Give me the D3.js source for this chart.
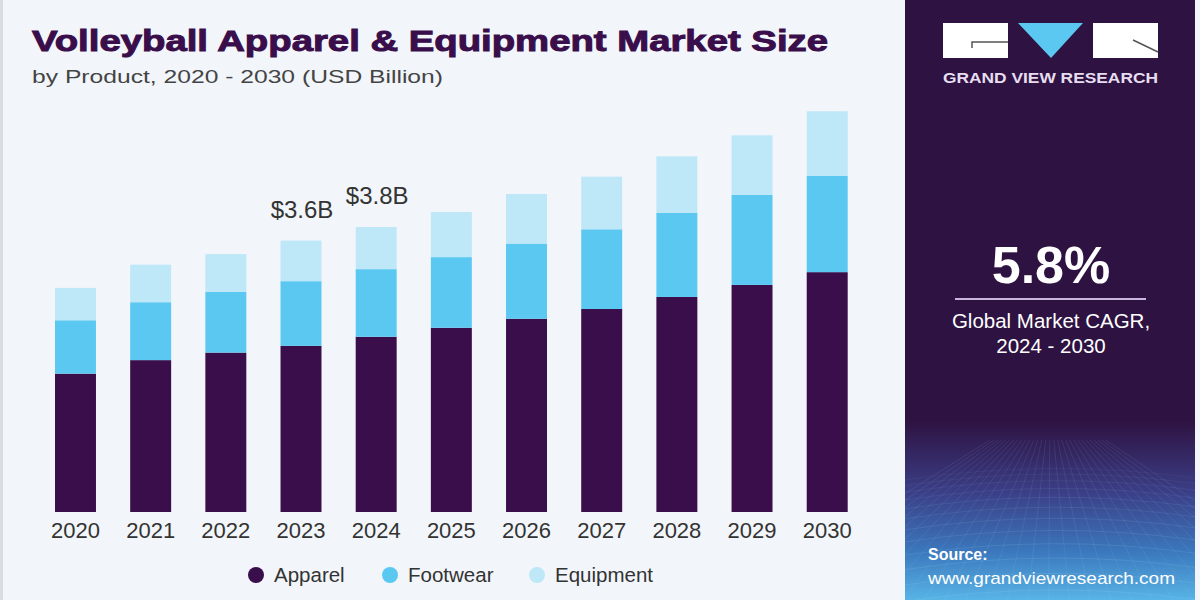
<!DOCTYPE html>
<html>
<head>
<meta charset="utf-8">
<script src="https://cdn.jsdelivr.net/npm/d3@7"></script>
<style>
  html, body { margin: 0; padding: 0; background: #f2f6fa; }
  svg { display: block; }
</style>
</head>
<body>
<svg id="chart" width="1200" height="600"></svg>
<script>
const years = ["2020","2021","2022","2023","2024","2025","2026","2027","2028","2029","2030"];
const apparel   = [1.84, 2.02, 2.12, 2.21, 2.33, 2.45, 2.57, 2.70, 2.86, 3.02, 3.19];
const footwear  = [0.71, 0.77, 0.81, 0.86, 0.90, 0.94, 1.00, 1.06, 1.12, 1.20, 1.28];
const equipment = [0.43, 0.50, 0.50, 0.54, 0.56, 0.60, 0.66, 0.70, 0.75, 0.79, 0.86];
const seriesNames = ["Apparel", "Footwear", "Equipment"];
const seriesColors = ["#3a0e4b", "#5bc8f1", "#bee7f8"];
const annotations = [{year: "2023", label: "$3.6B"}, {year: "2024", label: "$3.8B"}];
const cagrValue = "5.8%";
const cagrLines = ["Global Market CAGR,", "2024 - 2030"];

const svg = d3.select("#chart");
const font = "'Liberation Sans', Arial, sans-serif";

// background
svg.append("rect").attr("width", 1200).attr("height", 600).attr("fill", "#f2f6fa");
svg.append("rect").attr("x", 0).attr("y", 0).attr("width", 3).attr("height", 600).attr("fill", "#d9dde2");

// data table
const table = years.map((y, i) => ({year: y, Apparel: apparel[i], Footwear: footwear[i], Equipment: equipment[i]}));
const stack = d3.stack().keys(seriesNames)(table);

const x = d3.scaleBand().domain(years).range([20.8, 881.9]).paddingInner(0.455).paddingOuter(0.455);
const y = d3.scaleLinear().domain([0, 5.32]).range([512, 112]);
const color = d3.scaleOrdinal().domain(seriesNames).range(seriesColors);

const g = svg.append("g");
g.selectAll("g.series").data(stack).join("g")
  .attr("class", "series")
  .attr("fill", d => color(d.key))
  .selectAll("rect").data(d => d).join("rect")
  .attr("x", d => x(d.data.year))
  .attr("width", x.bandwidth())
  .attr("y", d => y(d[1]))
  .attr("height", d => y(d[0]) - y(d[1]));

// x axis labels
const xAxis = d3.axisBottom(x).tickSize(0).tickPadding(0);
const ax = svg.append("g").attr("transform", "translate(0,522)").call(xAxis);
ax.select(".domain").remove();
ax.selectAll("text")
  .attr("dy", "0.71em")
  .attr("font-family", font).attr("font-size", 22).attr("fill", "#333")
  .attr("y", 0);

// annotations
const totals = years.map((yr, i) => apparel[i] + footwear[i] + equipment[i]);
annotations.forEach(a => {
  const i = years.indexOf(a.year);
  svg.append("text")
    .attr("x", x(a.year) + x.bandwidth() / 2 + 1)
    .attr("y", y(totals[i]) - 23)
    .attr("text-anchor", "middle")
    .attr("font-family", font).attr("font-size", 24).attr("fill", "#333")
    .text(a.label);
});

// title
svg.append("text").attr("x", 32).attr("y", 51)
  .attr("font-family", font).attr("font-weight", 900).attr("font-size", 30)
  .attr("fill", "#3a0e4b")
  .attr("textLength", 796).attr("lengthAdjust", "spacingAndGlyphs")
  .style("stroke", "#3a0e4b").style("stroke-width", 1)
  .text("Volleyball Apparel & Equipment Market Size");
svg.append("text").attr("x", 32).attr("y", 83)
  .attr("font-family", font).attr("font-size", 19).attr("fill", "#444")
  .attr("textLength", 411).attr("lengthAdjust", "spacingAndGlyphs")
  .text("by Product, 2020 - 2030 (USD Billion)");

// legend
const legendX = [256, 390, 537];
const legend = svg.append("g");
seriesNames.forEach((name, i) => {
  legend.append("circle").attr("cx", legendX[i]).attr("cy", 575).attr("r", 8).attr("fill", seriesColors[i]);
  legend.append("text").attr("x", legendX[i] + 18).attr("y", 582)
    .attr("font-family", font).attr("font-size", 20.5).attr("fill", "#333")
    .text(name);
});

// right panel
const defs = svg.append("defs");
const grad = defs.append("linearGradient").attr("id", "panelGrad").attr("x1", 0).attr("y1", 0).attr("x2", 0).attr("y2", 1);
grad.append("stop").attr("offset", "0%").attr("stop-color", "#2e1241");
grad.append("stop").attr("offset", "70%").attr("stop-color", "#2e1241");
grad.append("stop").attr("offset", "82%").attr("stop-color", "#3b3e86");
grad.append("stop").attr("offset", "92%").attr("stop-color", "#3b78bd");
grad.append("stop").attr("offset", "100%").attr("stop-color", "#58b4e6");
svg.append("rect").attr("x", 905).attr("y", 0).attr("width", 290).attr("height", 600).attr("fill", "url(#panelGrad)");

// faint grid in the lower panel
const clip = defs.append("clipPath").attr("id", "panelClip");
clip.append("rect").attr("x", 905).attr("y", 430).attr("width", 290).attr("height", 170);
const gridG = svg.append("g").attr("clip-path", "url(#panelClip)").attr("stroke", "#9fd3f3").attr("fill", "none");
for (let k = 0; k < 16; k++) {
  const yy = 470 + k * k * 0.55 + k * 5;
  gridG.append("path").attr("d", `M905,${yy + 10} Q1050,${yy - 12} 1195,${yy + 8}`)
    .attr("stroke-opacity", 0.08 + k * 0.012).attr("stroke-width", 0.8);
}
for (let k = -6; k < 24; k++) {
  const xx = 905 + k * 16;
  gridG.append("path").attr("d", `M${xx + (xx - 1050) * 0.3},600 L${1050 + (xx - 1050) * 0.25},440`)
    .attr("stroke-opacity", 0.14).attr("stroke-width", 0.8);
}

// logo
const logo = svg.append("g");
logo.append("rect").attr("x", 943).attr("y", 23).attr("width", 65).attr("height", 35).attr("fill", "#ffffff");
logo.append("path").attr("d", "M1018,23 L1083,23 L1051,58 Z").attr("fill", "#5bc8f1");
logo.append("rect").attr("x", 1093).attr("y", 23).attr("width", 65).attr("height", 35).attr("fill", "#ffffff");
logo.append("path").attr("d", "M972,48 L972,42 L1008,42").attr("stroke", "#555").attr("stroke-width", 1.5).attr("fill", "none");
logo.append("path").attr("d", "M1133,40 L1158,52").attr("stroke", "#555").attr("stroke-width", 1.5).attr("fill", "none");
logo.append("text").attr("x", 943).attr("y", 83)
  .attr("font-family", font).attr("font-weight", 700).attr("font-size", 15).attr("fill", "#e6def0")
  .attr("textLength", 215).attr("lengthAdjust", "spacingAndGlyphs")
  .text("GRAND VIEW RESEARCH");

// CAGR
svg.append("text").attr("x", 1051).attr("y", 283).attr("text-anchor", "middle")
  .attr("font-family", font).attr("font-weight", 700).attr("font-size", 52).attr("fill", "#ffffff")
  .text(cagrValue);
svg.append("line").attr("x1", 955).attr("x2", 1146).attr("y1", 299).attr("y2", 299)
  .attr("stroke", "#c9b6dc").attr("stroke-width", 2);
cagrLines.forEach((t, i) => {
  svg.append("text").attr("x", 1051).attr("y", 328 + i * 25).attr("text-anchor", "middle")
    .attr("font-family", font).attr("font-size", 20.5).attr("fill", "#ffffff")
    .text(t);
});

// source
svg.append("text").attr("x", 928).attr("y", 560)
  .attr("font-family", font).attr("font-weight", 700).attr("font-size", 16).attr("fill", "#ffffff")
  .text("Source:");
svg.append("text").attr("x", 928).attr("y", 584)
  .attr("font-family", font).attr("font-size", 17).attr("fill", "#ffffff")
  .attr("textLength", 247).attr("lengthAdjust", "spacingAndGlyphs")
  .text("www.grandviewresearch.com");
</script>
</body>
</html>
